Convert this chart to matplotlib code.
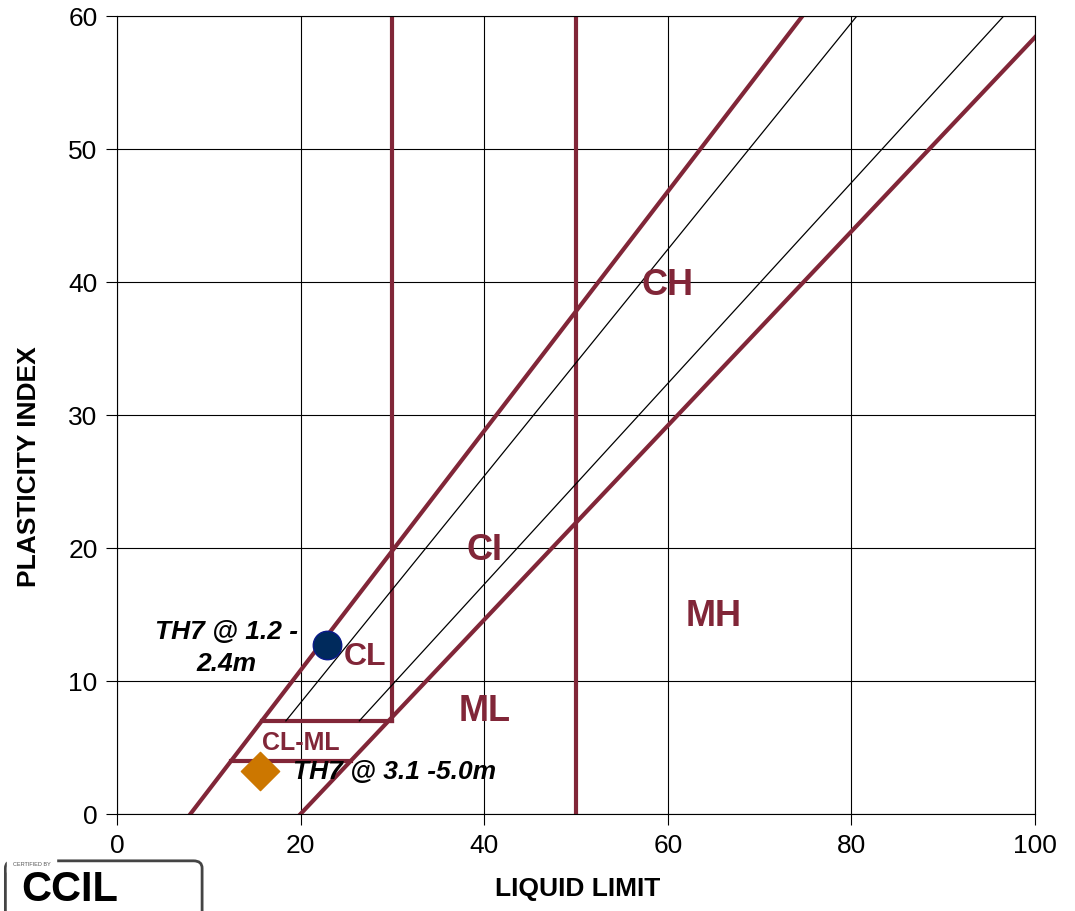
import numpy as np
import matplotlib.pyplot as plt
from matplotlib.patches import FancyBboxPatch

plt.rcParams['font.family'] = ['Liberation Sans', 'DejaVu Sans']

# chart boundaries (liquid limit, plasticity index)
u_line_ll = [8, 74.67]
u_line_pi = [0, 60]
a_line_ll = [20, 100]
a_line_pi = [0, 58.4]
ll_30_pi = [7, 60]
ll_50_pi = [0, 60]
clml_top_ll = [15.78, 30]
clml_top_pi = [7, 7]
clml_bot_ll = [12.44, 25.48]
clml_bot_pi = [4, 4]
thin1_ll = [18.4, 80.6]
thin1_pi = [7, 60]
thin2_ll = [26.4, 96.6]
thin2_pi = [7, 60]

# samples
sample_names = ['TH7 @ 1.2 -\n2.4m', 'TH7 @ 3.1 -5.0m']
sample_ll = [22.9, 15.6]
sample_pi = [12.7, 3.2]

zone_labels = ['CH', 'CI', 'MH', 'ML', 'CL', 'CL-ML']
zone_ll = [60, 40, 65, 40, 27, 20]
zone_pi = [39.8, 19.9, 14.9, 7.8, 11.9, 5.4]
zone_size = [26, 26, 26, 26, 23, 18]

maroon = '#812638'

fig = plt.figure(figsize=(10.75, 9.12), dpi=100)
ax = fig.add_axes([0.1088, 0.1064, 0.854, 0.875])

ax.plot(u_line_ll, u_line_pi, color=maroon, lw=3)
ax.plot(a_line_ll, a_line_pi, color=maroon, lw=3)
ax.plot([30, 30], ll_30_pi, color=maroon, lw=3)
ax.plot([50, 50], ll_50_pi, color=maroon, lw=3)
ax.plot(clml_top_ll, clml_top_pi, color=maroon, lw=3)
ax.plot(clml_bot_ll, clml_bot_pi, color=maroon, lw=3)
ax.plot(thin1_ll, thin1_pi, color='black', lw=0.9)
ax.plot(thin2_ll, thin2_pi, color='black', lw=0.9)

ax.scatter(sample_ll[0], sample_pi[0], s=420, marker='o', color='#002a5c',
           edgecolor='#0a1a8a', linewidth=1, zorder=5)
ax.scatter(sample_ll[1], sample_pi[1], s=380, marker='D', color='#cc7700',
           edgecolor='#cc7700', zorder=5)

ax.text(11.95, 12.55, sample_names[0], ha='center', va='center', fontsize=19,
        fontweight='bold', fontstyle='italic', linespacing=1.4)
ax.text(19.2, 3.2, sample_names[1], ha='left', va='center', fontsize=19,
        fontweight='bold', fontstyle='italic')

for lab, x, y, s in zip(zone_labels, zone_ll, zone_pi, zone_size):
    ax.text(x, y, lab, ha='center', va='center', fontsize=s,
            fontweight='bold', color=maroon)

ax.set_xlim(0, 100)
ax.set_ylim(0, 60)
ax.set_xticks(np.arange(0, 101, 20))
ax.set_yticks(np.arange(0, 61, 10))
ax.grid(True, color='black', lw=0.8)
ax.set_axisbelow(True)
ax.tick_params(labelsize=19, direction='out', length=8, width=0.8, pad=6)
for sp in ax.spines.values():
    sp.set_linewidth(0.8)

fig.text(0.537, 0.012, 'LIQUID LIMIT', ha='center', va='bottom',
         fontsize=19, fontweight='bold')
fig.text(0.027, 0.488, 'PLASTICITY INDEX', ha='center', va='center',
         rotation=90, fontsize=19, fontweight='bold')

# certification logo (approximation)
box = FancyBboxPatch((0.005, -0.02), 0.183, 0.075, transform=fig.transFigure,
                     boxstyle='round,pad=0,rounding_size=0.008',
                     facecolor='white', edgecolor='#444444', lw=2, clip_on=False)
fig.patches.append(box)
fig.text(0.012, 0.052, 'CERTIFIED BY', fontsize=4, color='#555555',
         va='center', backgroundcolor='white')
fig.text(0.02, 0.002, 'CCIL', fontsize=30, fontweight='bold', color='black',
         va='bottom')

fig.savefig('out.png', dpi=100)
